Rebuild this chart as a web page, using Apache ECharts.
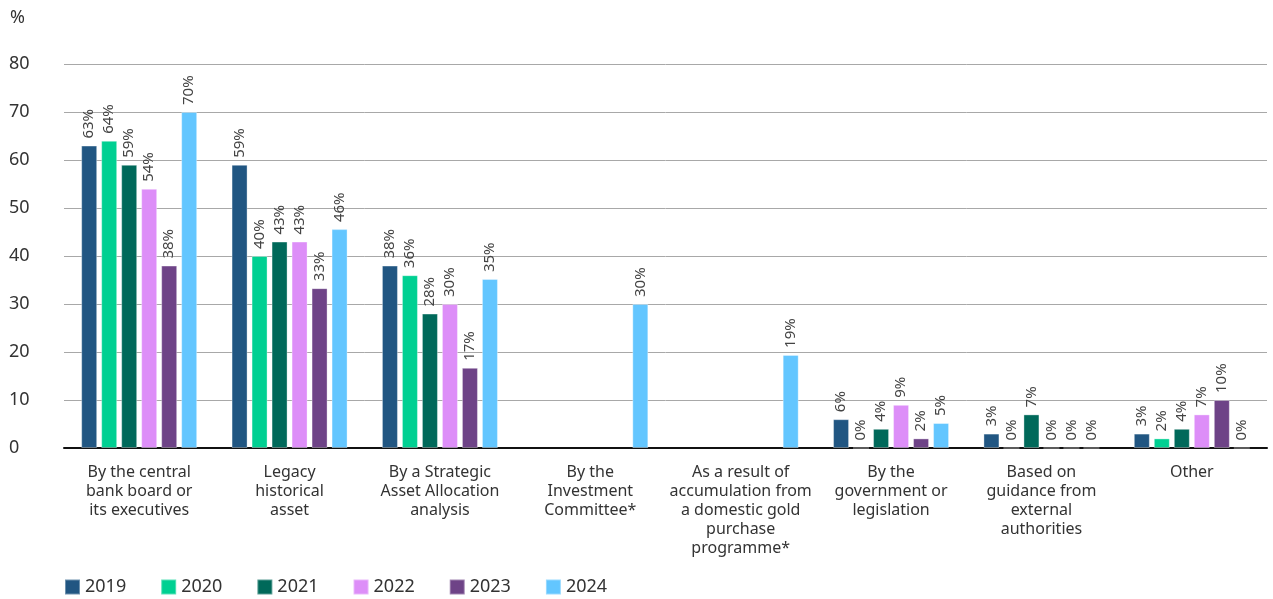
<!DOCTYPE html>
<html>
<head>
<meta charset="utf-8">
<style>
  html, body { margin: 0; padding: 0; background: #ffffff; }
  #chart { width: 1273px; height: 599px; }
</style>
<script src="https://cdn.jsdelivr.net/npm/echarts@6/dist/echarts.min.js"></script>
</head>
<body>
<div id="chart"></div>
<script>
// Category labels (line breaks as printed under the axis)
const categories = [
  'By the central\nbank board or\nits executives',
  'Legacy\nhistorical\nasset',
  'By a Strategic\nAsset Allocation\nanalysis',
  'By the\nInvestment\nCommittee*',
  'As a result of\naccumulation from\na domestic gold\npurchase\nprogramme*',
  'By the\ngovernment or\nlegislation',
  'Based on\nguidance from\nexternal\nauthorities',
  'Other'
];

const years = ['2019', '2020', '2021', '2022', '2023', '2024'];
const colors = ['#215682', '#00D092', '#00695A', '#DD8EF8', '#6E4387', '#63C6FF'];

// Share of respondents, % (null = option not asked that year)
const v2019 = [63, 59, 38, null, null, 6, 3, 3];
const v2020 = [64, 40, 36, null, null, 0, 0, 2];
const v2021 = [59, 43, 28, null, null, 4, 7, 4];
const v2022 = [54, 43, 30, null, null, 9, 0, 7];
const v2023 = [38, 33.3, 16.7, null, null, 2, 0, 10];
const v2024 = [70, 45.6, 35.2, 30, 19.4, 5.2, 0, 0];

const yTicks = { min: 0, max: 80, step: 10 };

const seriesValues = [v2019, v2020, v2021, v2022, v2023, v2024];
const FONT = '"Noto Sans", "Open Sans", sans-serif';

const chart = echarts.init(document.getElementById('chart'), null, { renderer: 'canvas' });

chart.setOption({
  animation: false,
  textStyle: { fontFamily: FONT },
  graphic: [{
    type: 'text', left: 10, top: 9,
    style: { text: '%', font: '18px ' + FONT, fill: '#333' }
  }],
  legend: {
    left: 64, top: 578, padding: 0,
    icon: 'rect',
    itemWidth: 15, itemHeight: 15, itemGap: 34,
    textStyle: { fontSize: 18, color: '#333', fontFamily: FONT },
    data: years
  },
  grid: { left: 64, right: 6, top: 64, bottom: 151, containLabel: false },
  xAxis: {
    type: 'category',
    data: categories,
    axisLine: { lineStyle: { color: '#111', width: 2 } },
    axisTick: { show: false },
    axisLabel: {
      interval: 0, margin: 15,
      fontSize: 16, lineHeight: 19, color: '#333', fontFamily: FONT
    }
  },
  yAxis: {
    type: 'value',
    min: yTicks.min, max: yTicks.max, interval: yTicks.step,
    axisLine: { show: false },
    axisTick: { show: false },
    splitLine: { lineStyle: { color: '#a8a8a8', width: 1 } },
    axisLabel: {
      align: 'left', margin: 55, padding: [4, 0, 0, 0],
      fontSize: 18, color: '#333', fontFamily: FONT
    }
  },
  series: years.map((y, i) => ({
    name: y,
    type: 'bar',
    data: seriesValues[i],
    barWidth: 16,
    barGap: '25%',
    itemStyle: { color: colors[i], borderColor: 'rgba(255,255,255,0.35)', borderWidth: 1 },
    label: {
      show: true,
      position: 'top',
      rotate: 90,
      align: 'left',
      verticalAlign: 'middle',
      distance: 7,
      fontSize: 15,
      color: '#444',
      fontFamily: FONT,
      formatter: p => (p.value == null ? '' : Math.round(p.value) + '%')
    }
  }))
});
</script>
</body>
</html>
